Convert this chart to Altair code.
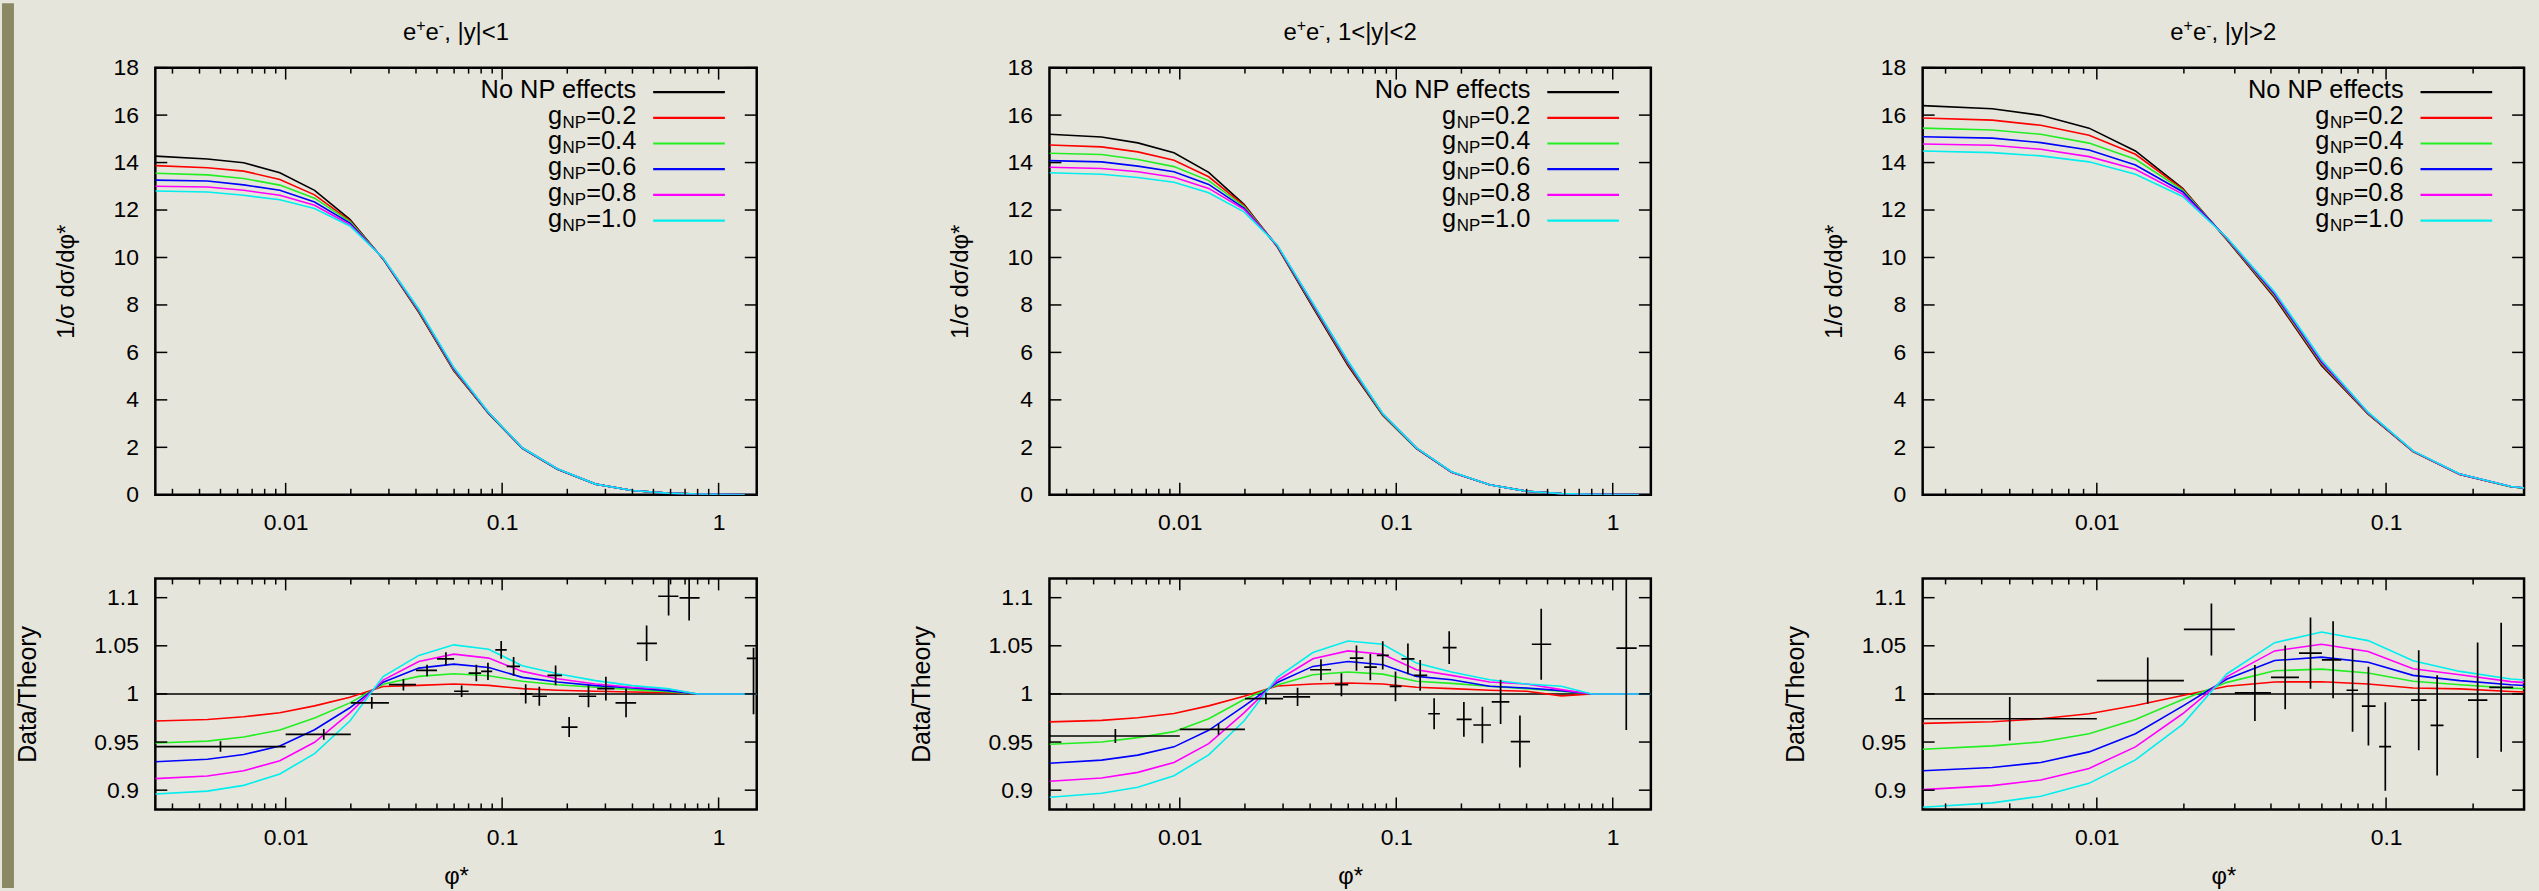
import altair as alt
import pandas as pd

FONT = "Liberation Sans"
BG = "#e6e5db"
STRIP = "#8a8964"

# ---------------- data ----------------
TITLE_TAILS = [", |y|<1", ", 1<|y|<2", ", |y|>2"]
X_DOMAINS = [[0.0025, 1.5], [0.0025, 1.5], [0.0025, 0.3]]
X_LABELS = [[0.01, 0.1, 1], [0.01, 0.1, 1], [0.01, 0.1]]
X_MINOR = [0.003, 0.004, 0.005, 0.006, 0.007, 0.008, 0.009,
           0.02, 0.03, 0.04, 0.05, 0.06, 0.07, 0.08, 0.09,
           0.2, 0.3, 0.4, 0.5, 0.6, 0.7, 0.8, 0.9]
Y_TICKS_TOP = [0, 2, 4, 6, 8, 10, 12, 14, 16, 18]
Y_TICKS_BOT = [0.9, 0.95, 1.0, 1.05, 1.1]

SERIES = ["No NP effects", "g=0.2", "g=0.4", "g=0.6", "g=0.8", "g=1.0"]
G_VALUES = ["0.2", "0.4", "0.6", "0.8", "1.0"]
COLORS = ["#000000", "#ff0000", "#22ee22", "#0000ff", "#ff00ff", "#00eeee"]

PHI_NODES = [0.0025, 0.00435, 0.0064, 0.0094, 0.0136, 0.0198, 0.0282, 0.0412, 0.0598,
             0.0867, 0.124, 0.18, 0.27, 0.40, 0.58, 0.80, 1.17, 1.7]

# normalised distributions (top row)
TOP1 = [
    [14.27, 14.15, 13.99, 13.57, 12.83, 11.61, 9.93, 7.69, 5.22, 3.42, 1.96, 1.08, 0.45, 0.18, 0.07, 0.03, 0.01, 0.0],
    [13.87, 13.78, 13.64, 13.29, 12.64, 11.55, 9.94, 7.72, 5.25, 3.43, 1.96, 1.08, 0.45, 0.18, 0.07, 0.03, 0.01, 0.0],
    [13.55, 13.48, 13.33, 13.05, 12.50, 11.51, 9.95, 7.75, 5.28, 3.44, 1.97, 1.09, 0.45, 0.18, 0.07, 0.03, 0.01, 0.0],
    [13.26, 13.22, 13.06, 12.83, 12.34, 11.45, 9.96, 7.78, 5.31, 3.45, 1.97, 1.09, 0.45, 0.18, 0.07, 0.03, 0.01, 0.0],
    [13.00, 12.97, 12.83, 12.62, 12.20, 11.38, 9.97, 7.80, 5.34, 3.46, 1.98, 1.10, 0.45, 0.18, 0.07, 0.03, 0.01, 0.0],
    [12.80, 12.76, 12.62, 12.43, 12.06, 11.33, 9.98, 7.83, 5.37, 3.47, 1.98, 1.10, 0.45, 0.18, 0.07, 0.03, 0.01, 0.0],
]
TOP2 = [
    [15.19, 15.08, 14.83, 14.41, 13.59, 12.24, 10.45, 7.90, 5.45, 3.34, 1.95, 0.95, 0.42, 0.15, 0.05, 0.02, 0.01, 0.0],
    [14.74, 14.66, 14.45, 14.10, 13.40, 12.20, 10.47, 7.95, 5.50, 3.36, 1.96, 0.95, 0.42, 0.15, 0.05, 0.02, 0.01, 0.0],
    [14.39, 14.34, 14.13, 13.83, 13.24, 12.15, 10.49, 7.98, 5.55, 3.38, 1.97, 0.96, 0.42, 0.15, 0.05, 0.02, 0.01, 0.0],
    [14.08, 14.03, 13.85, 13.61, 13.08, 12.08, 10.50, 8.02, 5.58, 3.40, 1.97, 0.96, 0.42, 0.15, 0.05, 0.02, 0.01, 0.0],
    [13.80, 13.75, 13.61, 13.38, 12.91, 12.03, 10.51, 8.05, 5.61, 3.41, 1.98, 0.96, 0.42, 0.15, 0.05, 0.02, 0.01, 0.0],
    [13.57, 13.51, 13.37, 13.17, 12.73, 11.92, 10.53, 8.08, 5.65, 3.42, 1.98, 0.97, 0.42, 0.15, 0.05, 0.02, 0.01, 0.0],
]
TOP3 = [
    [16.40, 16.27, 15.99, 15.45, 14.49, 12.91, 10.74, 8.30, 5.45, 3.40, 1.82, 0.86, 0.34, 0.12],
    [15.88, 15.79, 15.57, 15.15, 14.35, 12.88, 10.76, 8.35, 5.50, 3.41, 1.82, 0.86, 0.34, 0.12],
    [15.45, 15.37, 15.19, 14.82, 14.14, 12.84, 10.78, 8.40, 5.55, 3.43, 1.83, 0.87, 0.34, 0.12],
    [15.09, 15.03, 14.84, 14.53, 13.90, 12.77, 10.80, 8.45, 5.60, 3.45, 1.84, 0.87, 0.35, 0.12],
    [14.78, 14.73, 14.56, 14.25, 13.72, 12.67, 10.81, 8.50, 5.65, 3.46, 1.84, 0.87, 0.35, 0.12],
    [14.49, 14.42, 14.28, 14.03, 13.51, 12.57, 10.83, 8.55, 5.70, 3.48, 1.85, 0.88, 0.35, 0.12],
]

# ratios to the no-NP prediction (bottom row), gNP = 0.2 ... 1.0
RATIO1 = [
    [0.9718, 0.9735, 0.9763, 0.9804, 0.9876, 0.9966, 1.0077, 1.0089, 1.0103, 1.0089, 1.0055, 1.0038, 1.0028, 1.0020, 1.0014, 1.0, 1.0, 1.0],
    [0.9490, 0.9510, 0.9553, 0.9625, 0.9749, 0.9907, 1.0101, 1.0182, 1.0210, 1.0189, 1.0131, 1.0096, 1.0069, 1.0045, 1.0024, 1.0, 1.0, 1.0],
    [0.9295, 0.9322, 0.9370, 0.9460, 0.9628, 0.9856, 1.0122, 1.0268, 1.0310, 1.0275, 1.0172, 1.0124, 1.0086, 1.0062, 1.0034, 1.0, 1.0, 1.0],
    [0.9120, 0.9147, 0.9202, 0.9305, 0.9498, 0.9804, 1.0144, 1.0337, 1.0413, 1.0372, 1.0234, 1.0158, 1.0103, 1.0069, 1.0052, 1.0, 1.0, 1.0],
    [0.8960, 0.8990, 0.9050, 0.9168, 0.9380, 0.9718, 1.0180, 1.0400, 1.0510, 1.0464, 1.0292, 1.0210, 1.0138, 1.0086, 1.0055, 1.0, 1.0, 1.0],
]
RATIO2 = [
    [0.9710, 0.9725, 0.9752, 0.9797, 0.9876, 0.9976, 1.0083, 1.0103, 1.0114, 1.0103, 1.0069, 1.0055, 1.0038, 1.0028, 0.9980, 1.0, 1.0, 1.0],
    [0.9477, 0.9501, 0.9546, 0.9608, 0.9742, 0.9942, 1.0094, 1.0200, 1.0227, 1.0206, 1.0131, 1.0110, 1.0079, 1.0055, 1.0028, 1.0, 1.0, 1.0],
    [0.9280, 0.9312, 0.9364, 0.9450, 0.9622, 0.9873, 1.0118, 1.0286, 1.0337, 1.0303, 1.0182, 1.0148, 1.0079, 1.0062, 1.0034, 1.0, 1.0, 1.0],
    [0.9092, 0.9126, 0.9185, 0.9288, 0.9484, 0.9804, 1.0140, 1.0365, 1.0447, 1.0413, 1.0251, 1.0193, 1.0124, 1.0103, 1.0045, 1.0, 1.0, 1.0],
    [0.8927, 0.8968, 0.9030, 0.9150, 0.9367, 0.9718, 1.0172, 1.0430, 1.0550, 1.0516, 1.0320, 1.0227, 1.0148, 1.0103, 1.0079, 1.0, 1.0, 1.0],
]
RATIO3 = [
    [0.9694, 0.9711, 0.9742, 0.9794, 0.9880, 0.9983, 1.0080, 1.0124, 1.0127, 1.0103, 1.0062, 1.0052, 1.0025, 1.0010],
    [0.9426, 0.9460, 0.9501, 0.9587, 0.9735, 0.9942, 1.0120, 1.0241, 1.0258, 1.0217, 1.0131, 1.0096, 1.0060, 1.0040],
    [0.9202, 0.9236, 0.9288, 0.9398, 0.9587, 0.9873, 1.0155, 1.0347, 1.0382, 1.0330, 1.0193, 1.0138, 1.0095, 1.0070],
    [0.9006, 0.9047, 0.9106, 0.9226, 0.9450, 0.9794, 1.0180, 1.0447, 1.0516, 1.0440, 1.0261, 1.0200, 1.0128, 1.0090],
    [0.8823, 0.8868, 0.8937, 0.9071, 0.9315, 0.9684, 1.0210, 1.0533, 1.0643, 1.0554, 1.0344, 1.0234, 1.0155, 1.0120],
]

# data / theory points
D1_X = [0.005, 0.015, 0.025, 0.035, 0.045, 0.055, 0.065, 0.076, 0.086, 0.099, 0.113, 0.1285, 0.1485, 0.1766,
        0.204, 0.2506, 0.3015, 0.3736, 0.465, 0.5875, 0.731, 1.45]
D1_XLO = [0.0025, 0.01, 0.02, 0.03, 0.04, 0.05, 0.06, 0.07, 0.08, 0.093, 0.105, 0.121, 0.138, 0.162,
          0.188, 0.226, 0.275, 0.334, 0.419, 0.526, 0.66, 1.35]
D1_XHI = [0.01, 0.02, 0.03, 0.04, 0.05, 0.06, 0.07, 0.08, 0.09, 0.105, 0.121, 0.138, 0.161, 0.189,
          0.223, 0.272, 0.33, 0.416, 0.519, 0.652, 0.817, 1.6]
D1_Y = [0.9453, 0.958, 0.9907, 1.0096, 1.0244, 1.0365, 1.0028, 1.0217, 1.0234, 1.0458, 1.0286, 1.0,
        0.9976, 1.0193, 0.9656, 0.9976, 1.0055, 0.9907, 1.0526, 1.1015, 1.0998, 1.037]
D1_YLO = [0.9398, 0.9525, 0.9847, 1.0036, 1.0184, 1.0298, 0.9968, 1.0131, 1.0144, 1.0365, 1.0188, 0.99,
          0.9878, 1.009, 0.9553, 0.9861, 0.9931, 0.9757, 1.0342, 1.0815, 1.0764, 0.979]
D1_YHI = [0.9508, 0.9635, 0.9967, 1.0156, 1.0304, 1.0432, 1.0088, 1.0303, 1.0324, 1.0551, 1.0384, 1.01,
          1.0074, 1.0296, 0.9759, 1.0091, 1.0179, 1.0057, 1.071, 1.1215, 1.1232, 1.048]

D2_X = [0.00504, 0.0151, 0.025, 0.035, 0.0449, 0.0558, 0.0655, 0.0759, 0.0866, 0.0992, 0.1132, 0.129,
        0.1496, 0.1756, 0.2053, 0.25, 0.3034, 0.3726, 0.4673, 1.155]
D2_XLO = [0.0025, 0.01, 0.02, 0.03, 0.04, 0.052, 0.061, 0.0711, 0.0813, 0.0933, 0.1057, 0.1205,
          0.1406, 0.164, 0.19, 0.227, 0.276, 0.338, 0.423, 1.04]
D2_XHI = [0.01, 0.02, 0.03, 0.04, 0.05, 0.06, 0.0705, 0.0813, 0.0924, 0.1057, 0.1214, 0.139,
          0.159, 0.19, 0.223, 0.274, 0.333, 0.415, 0.52, 1.29]
D2_Y = [0.9563, 0.9632, 0.9952, 0.9969, 1.0251, 1.0096, 1.0372, 1.0279, 1.04, 1.0079, 1.0365, 1.0193,
        0.9794, 1.0482, 0.9735, 0.9677, 0.9917, 0.9505, 1.0516, 1.0475]
D2_YLO = [0.9491, 0.9577, 0.9892, 0.9874, 1.0141, 0.9976, 1.0242, 1.0143, 1.0254, 0.9924, 1.0205, 1.0033,
          0.9634, 1.0312, 0.9555, 0.9487, 0.9687, 0.9235, 1.0146, 0.9625]
D2_YHI = [0.9635, 0.9687, 1.0012, 1.0064, 1.0361, 1.0216, 1.0502, 1.0415, 1.0546, 1.0234, 1.0525, 1.0353,
          0.9954, 1.0652, 0.9915, 0.9867, 1.0147, 0.9775, 1.0886, 1.1325]

D3_X = [0.005, 0.015, 0.0249, 0.0352, 0.0448, 0.0548, 0.0656, 0.0766, 0.0869, 0.0994, 0.1297, 0.1502,
        0.2073, 0.25]
D3_XLO = [0.0025, 0.01, 0.02, 0.03, 0.04, 0.05, 0.06, 0.073, 0.0825, 0.0946, 0.122, 0.1425, 0.192, 0.2275]
D3_XHI = [0.01, 0.02, 0.03, 0.04, 0.05, 0.06, 0.07, 0.080, 0.092, 0.1041, 0.138, 0.158, 0.224, 0.275]
D3_Y = [0.9742, 1.0138, 1.067, 1.001, 1.0172, 1.0423, 1.0354, 1.0038, 0.9873, 0.9453, 0.9935, 0.9673,
        0.9935, 1.0069]
D3_YLO = [0.9515, 0.9898, 1.04, 0.972, 0.9842, 1.0053, 0.9954, 0.9608, 0.9463, 0.8993, 0.9415, 0.9153,
          0.9335, 0.9399]
D3_YHI = [0.9969, 1.0378, 1.094, 1.03, 1.0502, 1.0793, 1.0754, 1.0468, 1.0283, 0.9913, 1.0455, 1.0193,
          1.0535, 1.0739]

PANELS = [
    dict(tail=TITLE_TAILS[0], xdom=X_DOMAINS[0], xlab=X_LABELS[0], top=TOP1, ratio=RATIO1,
         pts=(D1_X, D1_XLO, D1_XHI, D1_Y, D1_YLO, D1_YHI)),
    dict(tail=TITLE_TAILS[1], xdom=X_DOMAINS[1], xlab=X_LABELS[1], top=TOP2, ratio=RATIO2,
         pts=(D2_X, D2_XLO, D2_XHI, D2_Y, D2_YLO, D2_YHI)),
    dict(tail=TITLE_TAILS[2], xdom=X_DOMAINS[2], xlab=X_LABELS[2], top=TOP3, ratio=RATIO3,
         pts=(D3_X, D3_XLO, D3_XHI, D3_Y, D3_YLO, D3_YHI)),
]

# ---------------- layout ----------------
W = 604
H_TOP = 429
H_BOT = 232
MAJ = 12
MIN = 6
TICK_FS = 23
LEG_TEXT_RIGHT = 483
LEG_LINE = (500, 572)
LEG_ROW0 = 24.6
LEG_STEP = 25.8
LEG_FS = 25.5
SUB_FS = 17
TITLE_FS = 24
SUPER_FS = 16
TITLE_BASE = -27.4

ARIAL = {'N': 0.722, 'o': 0.556, ' ': 0.278, 'P': 0.667, 'e': 0.556, 'f': 0.278, 'c': 0.5,
         't': 0.278, 's': 0.5, 'g': 0.556, '=': 0.584, '.': 0.278, '+': 0.584, '-': 0.333,
         ',': 0.278, '|': 0.26, 'y': 0.5, '<': 0.584, '>': 0.584}


def text_w(s, size):
    return sum(ARIAL.get(c, 0.556) for c in s) * size


def tick_layers(xsc, ysc, xaxis, yaxis, xdom, yticks, h):
    maj = pd.DataFrame({'v': [v for v in [0.01, 0.1, 1] if xdom[0] < v < xdom[1]]})
    mnr = pd.DataFrame({'v': [v for v in X_MINOR if xdom[0] < v < xdom[1]]})
    yt = pd.DataFrame({'v': yticks})
    out = []
    for df, ln in ((maj, MAJ), (mnr, MIN)):
        base = alt.Chart(df).mark_rule(color='black', strokeWidth=1.5)
        xe = alt.X('v:Q', scale=xsc, axis=xaxis)
        out.append(base.encode(x=xe, y=alt.value(h), y2=alt.value(h - ln)))
        out.append(base.encode(x=xe, y=alt.value(0), y2=alt.value(ln)))
    base = alt.Chart(yt).mark_rule(color='black', strokeWidth=1.5)
    ye = alt.Y('v:Q', scale=ysc, axis=yaxis)
    out.append(base.encode(y=ye, x=alt.value(0), x2=alt.value(MAJ)))
    out.append(base.encode(y=ye, x=alt.value(W), x2=alt.value(W - MAJ)))
    return out


def text_layer(rows, align, dy=0):
    return alt.Chart(pd.DataFrame(rows)).mark_text(
        align=align, baseline='alphabetic' if align == 'left' else 'middle',
        font=FONT, color='black', dy=dy).encode(
        x=alt.X('xp:Q', scale=None), y=alt.Y('yp:Q', scale=None),
        text='t:N', size=alt.Size('fs:Q', scale=None, legend=None))


def title_layer(tail):
    parts = [("e", TITLE_FS, 0), ("+", SUPER_FS, -9), ("e", TITLE_FS, 0), ("-", SUPER_FS, -9), (tail, TITLE_FS, 0)]
    total = sum(text_w(t, fs) for t, fs, _ in parts)
    x = W / 2 - total / 2
    rows = []
    for t, fs, dy in parts:
        rows.append({'t': t, 'xp': x, 'yp': TITLE_BASE + dy, 'fs': fs})
        x += text_w(t, fs)
    return text_layer(rows, 'left')


def legend_layers():
    texts = [{'t': SERIES[0], 'xp': LEG_TEXT_RIGHT, 'yp': LEG_ROW0, 'fs': LEG_FS}]
    lines = [{'xp': LEG_LINE[0], 'xp2': LEG_LINE[1], 'yp': LEG_ROW0, 'c': COLORS[0]}]
    for i, g in enumerate(G_VALUES):
        y = LEG_ROW0 + LEG_STEP * (i + 1)
        tail = "=" + g
        wt = text_w(tail, LEG_FS)
        ws = text_w("NP", SUB_FS)
        texts.append({'t': tail, 'xp': LEG_TEXT_RIGHT, 'yp': y, 'fs': LEG_FS})
        texts.append({'t': "NP", 'xp': LEG_TEXT_RIGHT - wt, 'yp': y + 7, 'fs': SUB_FS})
        texts.append({'t': "g", 'xp': LEG_TEXT_RIGHT - wt - ws - 0.5, 'yp': y, 'fs': LEG_FS})
        lines.append({'xp': LEG_LINE[0], 'xp2': LEG_LINE[1], 'yp': y, 'c': COLORS[i + 1]})
    ll = alt.Chart(pd.DataFrame(lines)).mark_rule(strokeWidth=2.2).encode(
        x=alt.X('xp:Q', scale=None), x2='xp2:Q',
        y=alt.Y('yp:Q', scale=None),
        color=alt.Color('c:N', scale=None, legend=None))
    return [text_layer(texts, 'right', dy=-2), ll]


def top_chart(p):
    xsc = alt.Scale(type='log', domain=p['xdom'], nice=False)
    ysc = alt.Scale(domain=[0, 18], nice=False, zero=False)
    n = len(p['top'][0])
    nodes = PHI_NODES[:n]
    xaxis = alt.Axis(values=p['xlab'], format='~g', ticks=False, tickSize=0, domain=False, grid=False,
                     labelFontSize=TICK_FS, labelPadding=17, labelFlush=False, labelOverlap=False, title=None)
    yaxis = alt.Axis(values=Y_TICKS_TOP, format='d', ticks=False, tickSize=0, domain=False, grid=False,
                     labelFontSize=TICK_FS, labelPadding=17, labelOverlap=False,
                     title="1/σ dσ/dφ*", titleFontSize=24, titleFontWeight='normal',
                     titleX=-89, titleY=H_TOP / 2, titleAngle=270, titleAlign='center',
                     titleBaseline='middle')
    layers = []
    for k, vals in enumerate(p['top']):
        df = pd.DataFrame({'phi': nodes, 'v': vals})
        layers.append(alt.Chart(df).mark_line(color=COLORS[k], strokeWidth=1.6, clip=True).encode(
            x=alt.X('phi:Q', scale=xsc, axis=xaxis),
            y=alt.Y('v:Q', scale=ysc, axis=yaxis)))
    layers += tick_layers(xsc, ysc, xaxis, yaxis, p['xdom'], Y_TICKS_TOP, H_TOP)
    layers += legend_layers()
    layers.append(title_layer(p['tail']))
    return alt.layer(*layers).properties(width=W, height=H_TOP)


def bottom_chart(p):
    xsc = alt.Scale(type='log', domain=p['xdom'], nice=False)
    ysc = alt.Scale(domain=[0.88, 1.12], nice=False, zero=False)
    n = len(p['ratio'][0])
    nodes = PHI_NODES[:n]
    xaxis = alt.Axis(values=p['xlab'], format='~g', ticks=False, tickSize=0, domain=False, grid=False,
                     labelFontSize=TICK_FS, labelPadding=17, labelFlush=False, labelOverlap=False,
                     title="φ*", titleFontSize=24, titleFontWeight='normal', titleY=67,
                     titleBaseline='middle')
    yaxis = alt.Axis(values=Y_TICKS_BOT, format='~g', ticks=False, tickSize=0, domain=False, grid=False,
                     labelFontSize=TICK_FS, labelPadding=17, labelOverlap=False,
                     title="Data/Theory", titleFontSize=25, titleFontWeight='normal',
                     titleX=-128, titleY=H_BOT / 2, titleAngle=270, titleAlign='center',
                     titleBaseline='middle')
    layers = []
    one = alt.Chart(pd.DataFrame({'r': [1.0]})).mark_rule(color='black', strokeWidth=1.6).encode(
        y=alt.Y('r:Q', scale=ysc, axis=yaxis))
    layers.append(one)
    for k, vals in enumerate(p['ratio']):
        df = pd.DataFrame({'phi': nodes, 'v': vals})
        layers.append(alt.Chart(df).mark_line(color=COLORS[k + 1], strokeWidth=1.6, clip=True).encode(
            x=alt.X('phi:Q', scale=xsc, axis=xaxis),
            y=alt.Y('v:Q', scale=ysc, axis=yaxis)))
    x, xlo, xhi, y, ylo, yhi = p['pts']
    dp = pd.DataFrame({'x': x, 'xlo': xlo, 'xhi': xhi, 'y': y, 'ylo': ylo, 'yhi': yhi})
    base = alt.Chart(dp).mark_rule(color='black', strokeWidth=1.7, clip=True)
    layers.append(base.encode(x=alt.X('xlo:Q', scale=xsc, axis=xaxis), x2='xhi:Q',
                              y=alt.Y('y:Q', scale=ysc, axis=yaxis)))
    layers.append(base.encode(x=alt.X('x:Q', scale=xsc, axis=xaxis),
                              y=alt.Y('ylo:Q', scale=ysc, axis=yaxis), y2='yhi:Q'))
    layers += tick_layers(xsc, ysc, xaxis, yaxis, p['xdom'], Y_TICKS_BOT, H_BOT)
    return alt.layer(*layers).properties(width=W, height=H_BOT)


cols = [alt.vconcat(top_chart(p), bottom_chart(p), spacing=40) for p in PANELS]

strip = alt.Chart(pd.DataFrame({'a': [0]})).mark_rect(color=STRIP).encode(
    x=alt.value(0), x2=alt.value(12), y=alt.value(-64.7), y2=alt.value(824)
).properties(width=12, height=1, view=alt.ViewBackground(stroke='transparent'))

chart = alt.hconcat(
    strip,
    alt.hconcat(alt.hconcat(cols[0], cols[1], spacing=149), cols[2], spacing=128),
    spacing=-2,
).properties(
    background=BG,
    padding={"left": 0, "top": 0, "right": 12, "bottom": 0},
).configure_view(
    stroke='black', strokeWidth=2.5
).configure_axis(
    labelFont=FONT, titleFont=FONT, labelColor='black', titleColor='black', grid=False
)

chart.save("out.html", embed_options={"renderer": "svg", "actions": False})
